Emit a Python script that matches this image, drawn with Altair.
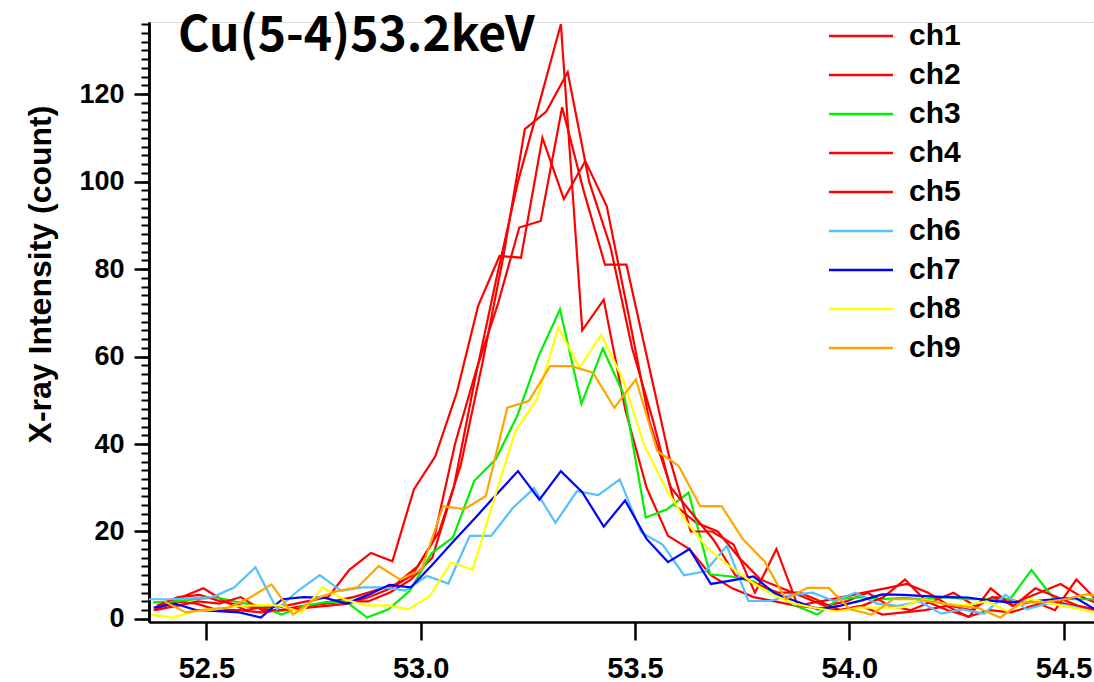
import altair as alt
import pandas as pd

# Energy grid (keV) of the spectra
ENERGY = [52.377, 52.427, 52.477, 52.527, 52.577, 52.627, 52.677, 52.727, 52.777, 52.827,
          52.877, 52.927, 52.977, 53.027, 53.077, 53.127, 53.177, 53.227, 53.277, 53.327,
          53.377, 53.427, 53.477, 53.527, 53.577, 53.627, 53.677, 53.727, 53.777, 53.827,
          53.877, 53.927, 53.977, 54.027, 54.077, 54.127, 54.177, 54.227, 54.277, 54.327,
          54.377, 54.427, 54.477, 54.527, 54.577]

CHANNELS = ["ch1", "ch2", "ch3", "ch4", "ch5", "ch6", "ch7", "ch8", "ch9"]
COLORS = ["#ff0000", "#ff0000", "#00f000", "#ff0000", "#ff0000",
          "#55bfff", "#0000ff", "#ffff00", "#ffa500"]
# per-channel energy calibration shift (keV)
OFFSETS = [0.0, 0.016, -0.002, 0.007, 0.003, -0.0126, 0.0, -0.006, 0.025]

CH1 = [2, 4, 3.5, 2, 2, 1.5, 2, 3, 3.5, 4, 4, 6,
       9, 14, 30, 55, 78, 100, 118, 136, 66, 73, 48, 30, 19,
       16, 10, 7, 5, 4, 3, 2.5, 2, 3, 1, 1.5, 2, 3, 0.5, 2, 1.5, 3, 4, 3, 2]
CH2 = [3, 5, 7, 4, 2, 3, 2.5, 3, 4, 5, 6.5, 8,
       12, 20, 35, 58, 83, 112, 116, 125, 100, 85, 62, 45, 26,
       22, 20, 14, 9, 7, 5, 3, 4, 6, 3, 2, 4, 6, 3, 5, 4, 6, 8, 5, 3]
CH3 = [3.8, 4, 4.5, 4.9, 3.8, 3, 1, 2.9, 3.8, 4, 0.3, 2.2,
       6.5, 15, 18.6, 31.6, 36.5, 46.4, 60.1, 70.8, 49.2, 61.8, 51, 23.2, 25.1,
       28.9, 10.2, 9.7, 8.6, 6, 3, 1, 4.5, 5, 4.5, 4.8, 4.5, 5, 4.5, 4.6, 4.5, 11.2, 4.9, 4.5, 4.5]
CH4 = [3, 5, 5.5, 4, 3, 2.5, 3, 4, 5, 11.3, 15.1, 13.2,
       29.6, 37.2, 51.7, 71.6, 83, 82.6, 110, 96, 104.7, 94.4, 70, 45, 30,
       24, 18, 10, 8, 6, 6, 4, 5, 6, 7, 8, 6, 3, 2, 5, 3, 7, 5, 3, 2]
CH5 = [2, 3, 4, 3.5, 5, 2, 2, 2.5, 3, 3.5, 5, 7,
       10, 18, 40, 57, 72, 89.5, 91, 117, 98, 81, 81, 59, 37,
       20, 20, 17, 6, 16, 3, 4, 2, 3, 5, 9, 4, 2, 0.5, 7, 3, 4, 2, 9, 4]
CH6 = [4.5, 4.5, 4.7, 5, 7.2, 11.8, 2.2, 6.5, 10, 6.4, 7.2, 7.2,
       6.5, 9.8, 8.1, 19, 19, 25.3, 29.9, 22, 29.2, 28.3, 31.9, 19.8, 17,
       10, 10.9, 16.7, 4.1, 4.1, 5.5, 6, 4.1, 6, 3.5, 3, 4, 1.2, 2.2, 1.2, 5.5, 2.2, 3.6, 3, 1.8]
CH7 = [2.6, 3.5, 2, 1.8, 1.5, 0.3, 4.5, 5, 4.8, 3.5, 5.5, 7.8,
       7.2, 12.4, 17.8, 23.1, 28.5, 33.8, 27.3, 33.8, 29, 21.1, 27.1, 18.3, 13,
       16, 8, 8.8, 9.7, 5.8, 4, 2.2, 3, 4.2, 5.6, 5.5, 5.2, 5, 4.9, 4.2, 3.8, 4, 4.5, 4.9, 2]
CH8 = [1, 0.3, 1.7, 2.2, 2.9, 3.1, 3.1, 1.5, 7.2, 4.5, 3.1, 3.1,
       2.2, 5.2, 12.9, 11.3, 27.3, 43, 50.2, 66.6, 57.5, 65, 55, 39.9, 30,
       22, 16, 12, 8.5, 5.5, 3.5, 2.5, 1.7, 2.6, 2.6, 2.6, 4.5, 3.5, 3.1, 4, 1.7, 4.5, 3.5, 2.6, 1.5]
CH9 = [4, 1.5, 2.2, 2.6, 4.9, 7.9, 1, 4.5, 6.3, 7.2, 12.1, 9,
       11.3, 25.8, 25.1, 28.1, 48.3, 49.8, 57.8, 57.8, 56.3, 48.3, 54.8, 38.4, 35,
       25.8, 25.8, 18.2, 13.2, 4.5, 7.1, 7.1, 2.2, 1, 4.5, 4.5, 3.8, 3, 2.5, 0.3, 3.8, 3.8, 4.5, 5.6, 5]

SERIES = [CH1, CH2, CH3, CH4, CH5, CH6, CH7, CH8, CH9]

X_TICKS = [52.5, 53.0, 53.5, 54.0, 54.5]
Y_MAJOR = [0, 20, 40, 60, 80, 100, 120]
Y_MINOR = list(range(0, 137, 2))
TITLE = "Cu(5-4)53.2keV"

rows = []
for name, off, vals in zip(CHANNELS, OFFSETS, SERIES):
    for i, (e, v) in enumerate(zip(ENERGY, vals)):
        rows.append({"energy": round(e + off, 4), "count": v, "channel": name, "idx": i})
df = pd.DataFrame(rows)

FONT = "Liberation Sans"
xscale = alt.Scale(domain=[52.366, 54.571], nice=False, zero=False)
yscale = alt.Scale(domain=[-0.7, 136.5], nice=False, zero=False)

xaxis = alt.Axis(values=X_TICKS, format=".1f", title=None, grid=False, orient="bottom",
                 labelFont=FONT, labelFontWeight="bold", labelFontSize=29,
                 labelColor="black", tickSize=18, tickWidth=2.5, tickColor="black",
                 domainWidth=2.5, domainColor="black", labelPadding=14,
                 labelFlush=False)

lines = alt.Chart(df).mark_line(strokeWidth=2.2, clip=True).encode(
    x=alt.X("energy:Q", scale=xscale, axis=xaxis),
    y=alt.Y("count:Q", scale=yscale,
            axis=alt.Axis(values=Y_MAJOR, title="X-ray Intensity (count)", grid=False,
                          orient="left",
                          labelFont=FONT, labelFontWeight="bold", labelFontSize=27,
                          labelColor="black", tickSize=15, tickWidth=2.5, tickColor="black",
                          domainWidth=2.5, domainColor="black", labelPadding=10,
                          titleFont=FONT, titleFontWeight="bold", titleFontSize=32,
                          titleColor="black", titleX=-109, titleY=252, titleAngle=270,
                          titleAlign="center", titleBaseline="middle")),
    color=alt.Color("channel:N",
                    scale=alt.Scale(domain=CHANNELS, range=COLORS),
                    legend=alt.Legend(orient="none", legendX=697, legendY=-1, title=None,
                                      symbolType="M-4,0H4", symbolSize=256,
                                      symbolStrokeWidth=2.5, labelOffset=33,
                                      labelFont=FONT, labelFontWeight="bold",
                                      labelFontSize=30, labelColor="black",
                                      rowPadding=9, padding=0)),
    order=alt.Order("idx:Q"),
)

minor = alt.Chart(df).mark_line(opacity=0).encode(
    x=alt.X("energy:Q", scale=xscale, axis=xaxis),
    y=alt.Y("count:Q", scale=yscale,
            axis=alt.Axis(values=Y_MINOR, labels=False, title=None, grid=False,
                          orient="left", tickSize=8, tickWidth=2, tickColor="black",
                          domainWidth=2.5, domainColor="black")),
)

title_df = pd.DataFrame({"label": [TITLE]})
title = alt.Chart(title_df).mark_text(
    font="Noto Sans CJK JP", fontWeight="bold", fontSize=48, align="left",
    baseline="alphabetic", color="black"
).encode(x=alt.value(29), y=alt.value(29), text="label:N")

chart = alt.layer(minor, lines, title).resolve_axis(y="independent").properties(
    width=945, height=600,
    padding={"left": 149, "top": 22, "right": 0, "bottom": 60},
    autosize="none",
).configure_view(stroke=None).configure(background="white")

chart.save("out.html", embed_options={"renderer": "svg", "actions": False})
